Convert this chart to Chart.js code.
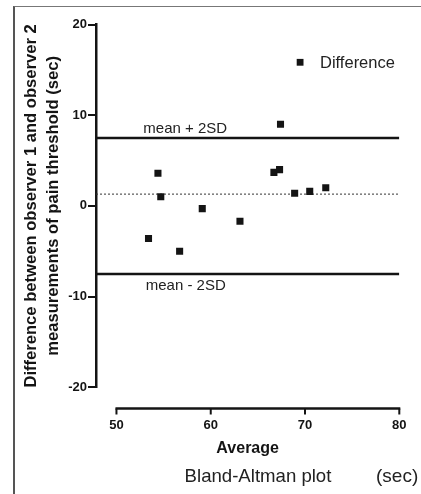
<!DOCTYPE html>
<html>
<head>
<meta charset="utf-8">
<script src="https://cdn.jsdelivr.net/npm/chart.js@4/dist/chart.umd.min.js"></script>
<style>
  html, body { margin: 0; padding: 0; background: #fff; }
  #wrap { position: relative; width: 421px; height: 494px; overflow: hidden; }
  #frame { position: absolute; left: 13px; top: 6px; right: -10px; bottom: -10px;
           border-left: 2px solid #555; border-top: 1px solid #777; pointer-events: none; }
  canvas { position: absolute; left: 0; top: 0; }
</style>
</head>
<body>
<div id="wrap">
  <canvas id="c" width="421" height="494"></canvas>
  <div id="frame"></div>
</div>
<script>
// ---- data ----
const averages    = [53.4, 54.4, 54.7, 56.7, 59.1, 63.1, 66.7, 67.3, 67.4, 68.9, 70.5, 72.2];
const differences = [-3.6, 3.6, 1.0, -5.0, -0.3, -1.7, 3.7, 4.0, 9.0, 1.4, 1.6, 2.0];
const meanDiff   = 1.3;
const upperLimit = 7.5;
const lowerLimit = -7.5;
const xTicks = [50, 60, 70, 80];
const yTicks = [-20, -10, 0, 10, 20];
const seriesLabel = 'Difference';
const upperLabel = 'mean + 2SD';
const lowerLabel = 'mean - 2SD';
const xTitle = 'Average';
const yTitle = ['Difference between observer 1 and observer 2', 'measurements of pain threshold (sec)'];
const captionMain = 'Bland-Altman plot';
const captionUnit = '(sec)';

// ---- layout constants ----
const FONT = "'Liberation Sans', Arial, Helvetica, sans-serif";
const X_MIN = 47.83, X_MAX = 80;   // x range of the plotting area (y axis sits left of 50)
const INK = '#141414';

const points = averages.map((a, i) => ({ x: a, y: differences[i] }));
const hline = v => [{ x: X_MIN, y: v }, { x: X_MAX, y: v }];

const extras = {
  id: 'extras',
  afterDraw(chart) {
    const { ctx, chartArea: ca, scales: { x: xs, y: ys } } = chart;
    ctx.save();
    // detached x axis line + downward tick marks
    const axY = ca.bottom + 21.2;
    ctx.strokeStyle = INK;
    ctx.lineWidth = 2.5;
    ctx.beginPath();
    ctx.moveTo(xs.getPixelForValue(xTicks[0]) - 1, axY);
    ctx.lineTo(xs.getPixelForValue(xTicks[xTicks.length - 1]) + 1, axY);
    ctx.stroke();
    ctx.lineWidth = 2;
    xTicks.forEach(v => {
      const px = xs.getPixelForValue(v);
      ctx.beginPath();
      ctx.moveTo(px, axY);
      ctx.lineTo(px, axY + 6);
      ctx.stroke();
    });

    // reference line labels
    ctx.fillStyle = '#222';
    ctx.font = '15px ' + FONT;
    ctx.textAlign = 'left';
    ctx.textBaseline = 'alphabetic';
    ctx.fillText(upperLabel, ca.left + 47.3, ys.getPixelForValue(upperLimit) - 4.4);
    ctx.fillText(lowerLabel, ca.left + 49.7, ys.getPixelForValue(lowerLimit) + 16);

    // legend
    const ds = chart.data.datasets[0];
    ctx.fillStyle = ds.backgroundColor;
    ctx.fillRect(296.7, 58.9, 6.8, 6.8);
    ctx.fillStyle = '#222';
    ctx.font = '16.5px ' + FONT;
    ctx.fillText(ds.label, 320, 67.5);

    // caption
    ctx.font = '18.6px ' + FONT;
    ctx.textAlign = 'center';
    ctx.fillText(captionMain, 258, 481.5);
    ctx.textAlign = 'left';
    ctx.font = '19px ' + FONT;
    ctx.fillText(captionUnit, 376, 481.5);
    ctx.restore();
  }
};

new Chart(document.getElementById('c'), {
  type: 'scatter',
  data: {
    datasets: [
      { label: seriesLabel, data: points, pointStyle: 'rect', pointRadius: 5, pointHoverRadius: 5,
        backgroundColor: INK, borderColor: INK, borderWidth: 0, order: 0 },
      { type: 'line', label: upperLabel, data: hline(upperLimit), borderColor: INK, borderWidth: 2.5,
        pointRadius: 0, fill: false, order: 1 },
      { type: 'line', label: lowerLabel, data: hline(lowerLimit), borderColor: INK, borderWidth: 2.5,
        pointRadius: 0, fill: false, order: 1 },
      { type: 'line', label: 'mean', data: hline(meanDiff), borderColor: '#333', borderWidth: 1,
        borderDash: [2, 2], pointRadius: 0, fill: false, order: 1 }
    ]
  },
  options: {
    responsive: false,
    animation: false,
    devicePixelRatio: 1,
    events: [],
    layout: { padding: { top: 24.5, right: 21.7, left: 0, bottom: 0 } },
    plugins: { legend: { display: false }, tooltip: { enabled: false }, title: { display: false } },
    scales: {
      x: {
        type: 'linear', min: X_MIN, max: X_MAX,
        afterBuildTicks: s => { s.ticks = xTicks.map(v => ({ value: v })); },
        afterFit: s => { s.height = 106.7; s.paddingLeft = 0; s.paddingRight = 0; },
        grid: { display: false, drawTicks: false },
        border: { display: false },
        ticks: { color: INK, padding: 30.5, font: { family: FONT, size: 13, weight: 'bold' }, autoSkip: false, maxRotation: 0 },
        title: { display: true, text: xTitle, color: INK, font: { family: FONT, size: 16, weight: 'bold' },
                 padding: { top: 0, bottom: 35.5 } }
      },
      y: {
        type: 'linear', min: -20, max: 20,
        afterBuildTicks: s => { s.ticks = yTicks.map(v => ({ value: v })); },
        afterFit: s => { s.width = 96; s.paddingTop = 0; s.paddingBottom = 0; },
        grid: { display: true, drawOnChartArea: false, drawTicks: true, tickLength: 8, color: INK, lineWidth: 2 },
        border: { display: true, color: INK, width: 2.5 },
        ticks: { color: INK, padding: 1, font: { family: FONT, size: 13, weight: 'bold' }, autoSkip: false },
        title: { display: true, text: yTitle, color: INK,
                 font: { family: FONT, size: 16.6, weight: 'bold', lineHeight: 1.3 },
                 padding: { top: 20.9, bottom: 0 } }
      }
    }
  },
  plugins: [extras]
});
</script>
</body>
</html>
